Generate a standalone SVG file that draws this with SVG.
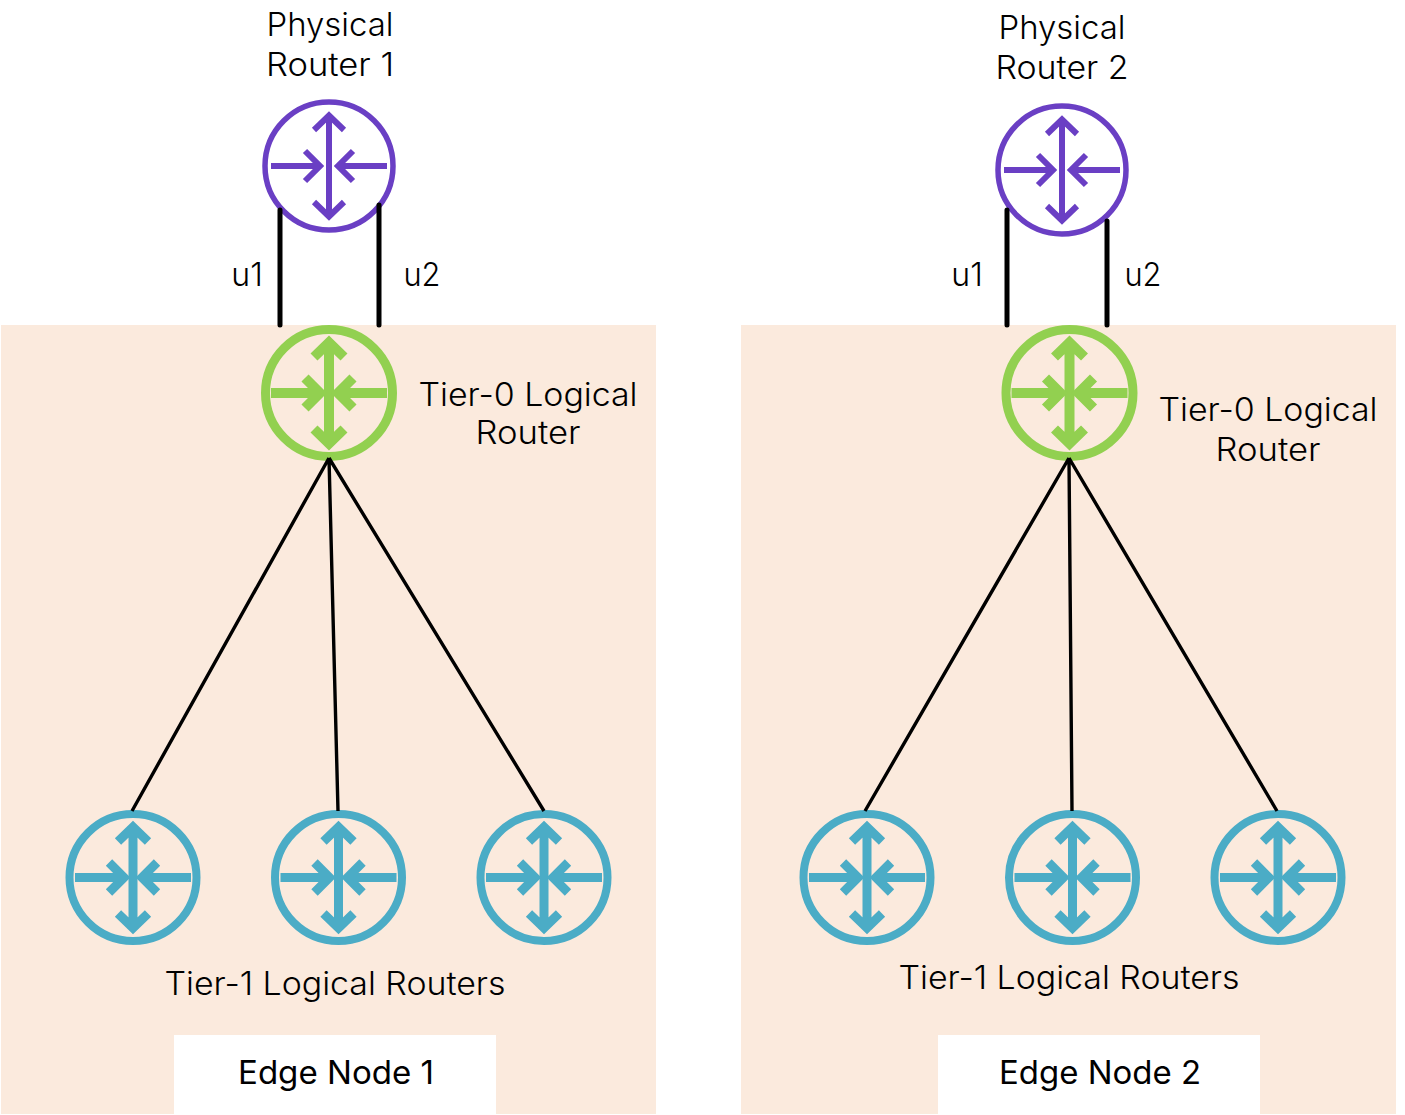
<svg xmlns="http://www.w3.org/2000/svg" width="1405" height="1115" viewBox="0 0 1405 1115">
<style>
text{font-family:"Inter","Liberation Sans",sans-serif;font-size:32px;font-weight:300;fill:#000;text-anchor:middle}
text.edge{font-weight:400}
.panel{fill:#fbeadd}
.tag{fill:#fff}
.ring{fill:none}
.arrows{fill:none;stroke-linecap:butt;stroke-linejoin:miter}
.phys{stroke:#6a3fc4;stroke-width:5.5}
.phys use{stroke-width:6}
.tier0{stroke:#92d050;stroke-width:9}
.tier0 use{stroke-width:10}
.tier1{stroke:#4bacc6;stroke-width:8}
.tier1 use{stroke-width:9}
.uplink{stroke:#000;stroke-width:5;stroke-linecap:round;fill:none}
.link{stroke:#000;stroke-width:3.4;fill:none}
</style>
<defs>
<g id="router-arrows" class="arrows">
<path d="M0-50V50M-15-36L0-50.500L15-36M-15 36L0 50.500L15 36"/>
<path d="M-58 0H-9M-24-15L-9 0L-24 15M58 0H9M24-15L9 0L24 15"/>
</g>
</defs>

<rect class="panel" x="1" y="325" width="655" height="789"/>
<rect class="panel" x="741" y="325" width="655" height="789"/>
<rect class="tag" x="174" y="1035" width="322" height="79"/>
<rect class="tag" x="938" y="1035" width="322" height="79"/>

<g id="physical-router-1" class="phys"><circle class="ring" cx="329" cy="166" r="64"/><use href="#router-arrows" transform="translate(329 166)"/></g>
<g id="physical-router-2" class="phys"><circle class="ring" cx="1062" cy="170" r="64"/><use href="#router-arrows" transform="translate(1062 170)"/></g>
<g id="tier0-router-1" class="tier0"><circle class="ring" cx="329" cy="393" r="63.500"/><use href="#router-arrows" transform="translate(329 393)"/></g>
<g id="tier0-router-2" class="tier0"><circle class="ring" cx="1069.500" cy="393" r="63.500"/><use href="#router-arrows" transform="translate(1069.500 393)"/></g>
<g id="tier1-router-1a" class="tier1"><circle class="ring" cx="133" cy="877.500" r="63.500"/><use href="#router-arrows" transform="translate(133 877.500)"/></g>
<g id="tier1-router-1b" class="tier1"><circle class="ring" cx="338.500" cy="877.500" r="63.500"/><use href="#router-arrows" transform="translate(338.500 877.500)"/></g>
<g id="tier1-router-1c" class="tier1"><circle class="ring" cx="544" cy="877.500" r="63.500"/><use href="#router-arrows" transform="translate(544 877.500)"/></g>
<g id="tier1-router-2a" class="tier1"><circle class="ring" cx="867" cy="877.500" r="63.500"/><use href="#router-arrows" transform="translate(867 877.500)"/></g>
<g id="tier1-router-2b" class="tier1"><circle class="ring" cx="1072.500" cy="877.500" r="63.500"/><use href="#router-arrows" transform="translate(1072.500 877.500)"/></g>
<g id="tier1-router-2c" class="tier1"><circle class="ring" cx="1278" cy="877.500" r="63.500"/><use href="#router-arrows" transform="translate(1278 877.500)"/></g>

<g id="connectors">
<path class="uplink" d="M280 210V325M379 205V325M1007 210V325M1107 221V325"/>
<path class="link" d="M329 458L132 811M329 458L338 811M329 458L544 811"/>
<path class="link" d="M1069 458L865 811M1069 458L1072 811M1069 458L1277 811"/>
</g>

<g id="labels">
<text x="330" y="36" textLength="127" lengthAdjust="spacingAndGlyphs">Physical</text>
<text x="330" y="76" textLength="128" lengthAdjust="spacingAndGlyphs">Router 1</text>
<text x="1062" y="39" textLength="127" lengthAdjust="spacingAndGlyphs">Physical</text>
<text x="1062" y="79" textLength="133" lengthAdjust="spacingAndGlyphs">Router 2</text>
<text x="247" y="286">u1</text>
<text x="422" y="286" textLength="37" lengthAdjust="spacingAndGlyphs">u2</text>
<text x="967" y="286">u1</text>
<text x="1143" y="286" textLength="37" lengthAdjust="spacingAndGlyphs">u2</text>
<text x="528" y="406" textLength="219" lengthAdjust="spacingAndGlyphs">Tier-0 Logical</text>
<text x="528" y="444" textLength="105" lengthAdjust="spacingAndGlyphs">Router</text>
<text x="1268" y="421" textLength="219" lengthAdjust="spacingAndGlyphs">Tier-0 Logical</text>
<text x="1268" y="461" textLength="105" lengthAdjust="spacingAndGlyphs">Router</text>
<text x="335" y="995" textLength="341" lengthAdjust="spacingAndGlyphs">Tier-1 Logical Routers</text>
<text x="1069" y="989" textLength="341" lengthAdjust="spacingAndGlyphs">Tier-1 Logical Routers</text>
<text class="edge" x="336" y="1084" textLength="196" lengthAdjust="spacingAndGlyphs">Edge Node 1</text>
<text class="edge" x="1100" y="1084" textLength="202" lengthAdjust="spacingAndGlyphs">Edge Node 2</text>
</g>
</svg>
